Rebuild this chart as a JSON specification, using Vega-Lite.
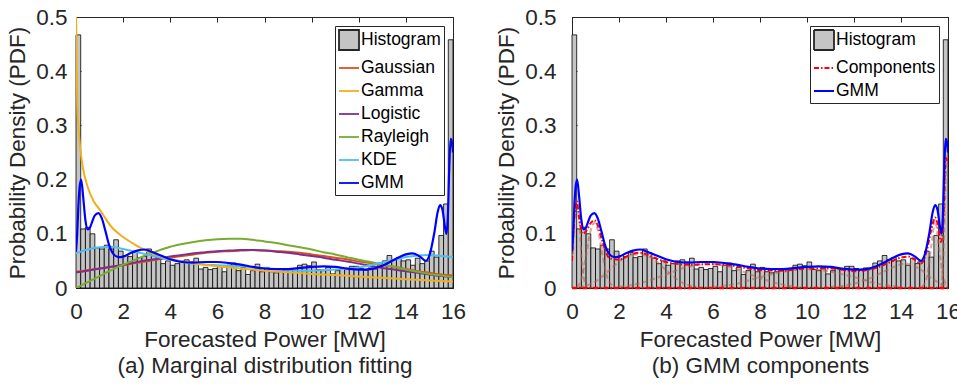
{
  "$schema": "https://vega.github.io/schema/vega-lite/v6.json",
  "background": "white",
  "padding": {"left": 6, "top": 5, "right": 0, "bottom": 0},
  "spacing": 28,
  "resolve": {"scale": {"x": "independent", "y": "independent", "color": "independent", "fill": "independent", "stroke": "independent", "shape": "independent", "strokeDash": "independent"}, "legend": {"fill": "independent", "stroke": "independent", "shape": "independent", "strokeDash": "independent"}},
  "config": {
    "font": "Liberation Sans",
    "view": {"stroke": "#262626", "strokeWidth": 1},
    "axis": {
      "labelFont": "Liberation Sans", "labelFontSize": 22.5, "labelColor": "#262626", "labelFlush": false, "labelOverlap": false,
      "titleFont": "Liberation Sans", "titleFontSize": 22.5, "titleFontWeight": "normal", "titleColor": "#262626",
      "grid": false, "domain": false, "tickColor": "#262626", "tickSize": -5, "tickWidth": 1
    },
    "legend": {
      "title": null, "orient": "top-right", "offset": 9,
      "labelFont": "Liberation Sans", "labelFontSize": 17.5, "labelColor": "black",
      "symbolSize": 400, "symbolStrokeWidth": 1.8,
      "strokeColor": "#262626", "fillColor": "white", "padding": 3, "rowPadding": 3, "labelOffset": 1
    }
  },
  "datasets": {
    "hist": [
      {"x0":0.0,"x1":0.2,"d":0.467},{"x0":0.2,"x1":0.4,"d":0.109},{"x0":0.4,"x1":0.6,"d":0.112},{"x0":0.6,"x1":0.8,"d":0.100},
      {"x0":0.8,"x1":1.0,"d":0.074},{"x0":1.0,"x1":1.2,"d":0.072},{"x0":1.2,"x1":1.4,"d":0.079},{"x0":1.4,"x1":1.6,"d":0.072},
      {"x0":1.6,"x1":1.8,"d":0.089},{"x0":1.8,"x1":2.0,"d":0.068},{"x0":2.0,"x1":2.2,"d":0.060},{"x0":2.2,"x1":2.4,"d":0.058},
      {"x0":2.4,"x1":2.6,"d":0.066},{"x0":2.6,"x1":2.8,"d":0.056},{"x0":2.8,"x1":3.0,"d":0.058},{"x0":3.0,"x1":3.2,"d":0.072},
      {"x0":3.2,"x1":3.4,"d":0.065},{"x0":3.4,"x1":3.6,"d":0.055},{"x0":3.6,"x1":3.8,"d":0.045},{"x0":3.8,"x1":4.0,"d":0.050},
      {"x0":4.0,"x1":4.2,"d":0.042},{"x0":4.2,"x1":4.4,"d":0.045},{"x0":4.4,"x1":4.6,"d":0.050},{"x0":4.6,"x1":4.8,"d":0.052},
      {"x0":4.8,"x1":5.0,"d":0.048},{"x0":5.0,"x1":5.2,"d":0.055},{"x0":5.2,"x1":5.4,"d":0.035},{"x0":5.4,"x1":5.6,"d":0.038},
      {"x0":5.6,"x1":5.8,"d":0.034},{"x0":5.8,"x1":6.0,"d":0.036},{"x0":6.0,"x1":6.2,"d":0.040},{"x0":6.2,"x1":6.4,"d":0.030},
      {"x0":6.4,"x1":6.6,"d":0.042},{"x0":6.6,"x1":6.8,"d":0.046},{"x0":6.8,"x1":7.0,"d":0.032},{"x0":7.0,"x1":7.2,"d":0.038},
      {"x0":7.2,"x1":7.4,"d":0.025},{"x0":7.4,"x1":7.6,"d":0.032},{"x0":7.6,"x1":7.8,"d":0.044},{"x0":7.8,"x1":8.0,"d":0.030},
      {"x0":8.0,"x1":8.2,"d":0.038},{"x0":8.2,"x1":8.4,"d":0.030},{"x0":8.4,"x1":8.6,"d":0.028},{"x0":8.6,"x1":8.8,"d":0.030},
      {"x0":8.8,"x1":9.0,"d":0.036},{"x0":9.0,"x1":9.2,"d":0.034},{"x0":9.2,"x1":9.4,"d":0.036},{"x0":9.4,"x1":9.6,"d":0.042},
      {"x0":9.6,"x1":9.8,"d":0.044},{"x0":9.8,"x1":10.0,"d":0.041},{"x0":10.0,"x1":10.2,"d":0.048},{"x0":10.2,"x1":10.4,"d":0.034},
      {"x0":10.4,"x1":10.6,"d":0.032},{"x0":10.6,"x1":10.8,"d":0.038},{"x0":10.8,"x1":11.0,"d":0.026},{"x0":11.0,"x1":11.2,"d":0.032},
      {"x0":11.2,"x1":11.4,"d":0.036},{"x0":11.4,"x1":11.6,"d":0.034},{"x0":11.6,"x1":11.8,"d":0.040},{"x0":11.8,"x1":12.0,"d":0.040},
      {"x0":12.0,"x1":12.2,"d":0.036},{"x0":12.2,"x1":12.4,"d":0.033},{"x0":12.4,"x1":12.6,"d":0.037},{"x0":12.6,"x1":12.8,"d":0.035},
      {"x0":12.8,"x1":13.0,"d":0.046},{"x0":13.0,"x1":13.2,"d":0.050},{"x0":13.2,"x1":13.4,"d":0.060},{"x0":13.4,"x1":13.6,"d":0.052},
      {"x0":13.6,"x1":13.8,"d":0.056},{"x0":13.8,"x1":14.0,"d":0.050},{"x0":14.0,"x1":14.2,"d":0.052},{"x0":14.2,"x1":14.4,"d":0.042},
      {"x0":14.4,"x1":14.6,"d":0.055},{"x0":14.6,"x1":14.8,"d":0.045},{"x0":14.8,"x1":15.0,"d":0.050},{"x0":15.0,"x1":15.2,"d":0.068},
      {"x0":15.2,"x1":15.4,"d":0.057},{"x0":15.4,"x1":15.6,"d":0.097},{"x0":15.6,"x1":15.8,"d":0.155},{"x0":15.8,"x1":16.0,"d":0.458}
    ],
    "fits": [
      {"x":0,"Gaussian":0.030,"Logistic":0.029,"Rayleigh":0.000,"KDE":0.064},
      {"x":0.5,"Gaussian":0.033,"Logistic":0.032,"Rayleigh":0.011,"KDE":0.071},
      {"x":1,"Gaussian":0.036,"Logistic":0.036,"Rayleigh":0.022,"KDE":0.075},
      {"x":1.5,"Gaussian":0.039,"Logistic":0.039,"Rayleigh":0.033,"KDE":0.076},
      {"x":2,"Gaussian":0.042,"Logistic":0.043,"Rayleigh":0.043,"KDE":0.072},
      {"x":2.5,"Gaussian":0.046,"Logistic":0.047,"Rayleigh":0.052,"KDE":0.067},
      {"x":3,"Gaussian":0.049,"Logistic":0.051,"Rayleigh":0.061,"KDE":0.062},
      {"x":3.5,"Gaussian":0.053,"Logistic":0.054,"Rayleigh":0.069,"KDE":0.057},
      {"x":4,"Gaussian":0.056,"Logistic":0.058,"Rayleigh":0.076,"KDE":0.052},
      {"x":4.5,"Gaussian":0.059,"Logistic":0.061,"Rayleigh":0.081,"KDE":0.048},
      {"x":5,"Gaussian":0.062,"Logistic":0.064,"Rayleigh":0.085,"KDE":0.045},
      {"x":5.5,"Gaussian":0.065,"Logistic":0.066,"Rayleigh":0.088,"KDE":0.043},
      {"x":6,"Gaussian":0.067,"Logistic":0.068,"Rayleigh":0.090,"KDE":0.042},
      {"x":6.5,"Gaussian":0.068,"Logistic":0.069,"Rayleigh":0.091,"KDE":0.041},
      {"x":7,"Gaussian":0.069,"Logistic":0.070,"Rayleigh":0.091,"KDE":0.040},
      {"x":7.5,"Gaussian":0.070,"Logistic":0.070,"Rayleigh":0.089,"KDE":0.038},
      {"x":8,"Gaussian":0.069,"Logistic":0.069,"Rayleigh":0.086,"KDE":0.037},
      {"x":8.5,"Gaussian":0.068,"Logistic":0.067,"Rayleigh":0.083,"KDE":0.035},
      {"x":9,"Gaussian":0.067,"Logistic":0.065,"Rayleigh":0.079,"KDE":0.033},
      {"x":9.5,"Gaussian":0.065,"Logistic":0.062,"Rayleigh":0.075,"KDE":0.032},
      {"x":10,"Gaussian":0.062,"Logistic":0.059,"Rayleigh":0.071,"KDE":0.032},
      {"x":10.5,"Gaussian":0.059,"Logistic":0.056,"Rayleigh":0.066,"KDE":0.033},
      {"x":11,"Gaussian":0.056,"Logistic":0.052,"Rayleigh":0.062,"KDE":0.034},
      {"x":11.5,"Gaussian":0.053,"Logistic":0.049,"Rayleigh":0.057,"KDE":0.036},
      {"x":12,"Gaussian":0.049,"Logistic":0.045,"Rayleigh":0.052,"KDE":0.038},
      {"x":12.5,"Gaussian":0.046,"Logistic":0.041,"Rayleigh":0.048,"KDE":0.042},
      {"x":13,"Gaussian":0.042,"Logistic":0.037,"Rayleigh":0.043,"KDE":0.047},
      {"x":13.5,"Gaussian":0.039,"Logistic":0.034,"Rayleigh":0.039,"KDE":0.052},
      {"x":14,"Gaussian":0.035,"Logistic":0.031,"Rayleigh":0.034,"KDE":0.057},
      {"x":14.5,"Gaussian":0.031,"Logistic":0.028,"Rayleigh":0.030,"KDE":0.060},
      {"x":15,"Gaussian":0.028,"Logistic":0.025,"Rayleigh":0.026,"KDE":0.061},
      {"x":15.5,"Gaussian":0.025,"Logistic":0.022,"Rayleigh":0.023,"KDE":0.059},
      {"x":16,"Gaussian":0.023,"Logistic":0.020,"Rayleigh":0.020,"KDE":0.057}
    ],
    "gamma": [
      {"x":0.005,"p":0.50},{"x":0.05,"p":0.35},{"x":0.1,"p":0.30},{"x":0.2,"p":0.25},{"x":0.3,"p":0.22},
      {"x":0.5,"p":0.186},{"x":0.75,"p":0.16},{"x":1.0,"p":0.145},{"x":1.5,"p":0.113},{"x":2,"p":0.094},
      {"x":2.5,"p":0.08},{"x":3,"p":0.068},{"x":4,"p":0.054},{"x":5,"p":0.045},{"x":6,"p":0.04},
      {"x":7,"p":0.036},{"x":8,"p":0.032},{"x":9,"p":0.029},{"x":10,"p":0.026},{"x":11,"p":0.024},
      {"x":12,"p":0.021},{"x":13,"p":0.019},{"x":14,"p":0.016},{"x":15,"p":0.014},{"x":16,"p":0.012}
    ],
    "gmm": [
      {"x":0,"p":0.067},{"x":0.05,"p":0.10},{"x":0.1,"p":0.15},{"x":0.15,"p":0.185},{"x":0.22,"p":0.2},
      {"x":0.3,"p":0.17},{"x":0.4,"p":0.125},{"x":0.5,"p":0.108},{"x":0.6,"p":0.112},{"x":0.7,"p":0.124},
      {"x":0.8,"p":0.134},{"x":0.95,"p":0.138},{"x":1.1,"p":0.128},{"x":1.25,"p":0.105},{"x":1.4,"p":0.08},
      {"x":1.6,"p":0.062},{"x":1.8,"p":0.057},{"x":2.0,"p":0.058},{"x":2.3,"p":0.064},{"x":2.6,"p":0.069},
      {"x":2.9,"p":0.071},{"x":3.2,"p":0.067},{"x":3.6,"p":0.060},{"x":4.0,"p":0.053},{"x":4.5,"p":0.048},
      {"x":5.0,"p":0.047},{"x":5.5,"p":0.048},{"x":6.0,"p":0.048},{"x":6.5,"p":0.046},{"x":7.0,"p":0.043},
      {"x":7.5,"p":0.039},{"x":8.0,"p":0.036},{"x":8.5,"p":0.035},{"x":9.0,"p":0.035},{"x":9.5,"p":0.037},
      {"x":10.0,"p":0.039},{"x":10.5,"p":0.040},{"x":11.0,"p":0.039},{"x":11.5,"p":0.036},{"x":12.0,"p":0.034},
      {"x":12.5,"p":0.035},{"x":13.0,"p":0.041},{"x":13.5,"p":0.052},{"x":14.0,"p":0.062},{"x":14.3,"p":0.064},
      {"x":14.6,"p":0.058},{"x":14.85,"p":0.05},{"x":15.0,"p":0.06},{"x":15.2,"p":0.10},{"x":15.35,"p":0.14},
      {"x":15.45,"p":0.153},{"x":15.55,"p":0.145},{"x":15.65,"p":0.115},{"x":15.72,"p":0.1},{"x":15.78,"p":0.13},
      {"x":15.84,"p":0.22},{"x":15.9,"p":0.275},{"x":15.95,"p":0.27},{"x":16.0,"p":0.25}
    ],
    "compsum": [
      {"x":0,"p":0.05},{"x":0.1,"p":0.13},{"x":0.2,"p":0.16},{"x":0.3,"p":0.13},{"x":0.45,"p":0.1},
      {"x":0.6,"p":0.105},{"x":0.8,"p":0.12},{"x":0.95,"p":0.125},{"x":1.1,"p":0.115},{"x":1.3,"p":0.085},
      {"x":1.6,"p":0.055},{"x":2.0,"p":0.052},{"x":2.5,"p":0.062},{"x":2.9,"p":0.065},{"x":3.4,"p":0.058},
      {"x":4.0,"p":0.048},{"x":5.0,"p":0.043},{"x":6.0,"p":0.044},{"x":7.0,"p":0.04},{"x":8.0,"p":0.033},
      {"x":9.0,"p":0.032},{"x":10.0,"p":0.036},{"x":11.0,"p":0.036},{"x":12.0,"p":0.031},{"x":13.0,"p":0.038},
      {"x":13.5,"p":0.047},{"x":14.0,"p":0.056},{"x":14.3,"p":0.058},{"x":14.6,"p":0.052},{"x":14.85,"p":0.045},
      {"x":15.1,"p":0.07},{"x":15.3,"p":0.11},{"x":15.45,"p":0.13},{"x":15.55,"p":0.12},{"x":15.7,"p":0.085},
      {"x":15.8,"p":0.12},{"x":15.9,"p":0.24},{"x":16.0,"p":0.23}
    ],
    "comps": [
      {"c":1,"x":0,"p":0.05},{"c":1,"x":0.1,"p":0.13},{"c":1,"x":0.2,"p":0.16},{"c":1,"x":0.3,"p":0.13},{"c":1,"x":0.4,"p":0.06},{"c":1,"x":0.5,"p":0.02},{"c":1,"x":0.6,"p":0.003},
      {"c":2,"x":0.2,"p":0.002},{"c":2,"x":0.4,"p":0.016},{"c":2,"x":0.6,"p":0.06},{"c":2,"x":0.8,"p":0.107},{"c":2,"x":0.95,"p":0.12},{"c":2,"x":1.1,"p":0.107},{"c":2,"x":1.3,"p":0.06},{"c":2,"x":1.5,"p":0.02},{"c":2,"x":1.8,"p":0.002},
      {"c":3,"x":0.3,"p":0.001},{"c":3,"x":1.0,"p":0.012},{"c":3,"x":1.6,"p":0.033},{"c":3,"x":2.2,"p":0.055},{"c":3,"x":2.8,"p":0.062},{"c":3,"x":3.4,"p":0.055},{"c":3,"x":4.0,"p":0.033},{"c":3,"x":4.6,"p":0.012},{"c":3,"x":5.3,"p":0.002},
      {"c":4,"x":2.0,"p":0.002},{"c":4,"x":3.0,"p":0.01},{"c":4,"x":4.0,"p":0.025},{"c":4,"x":5.0,"p":0.04},{"c":4,"x":5.8,"p":0.045},{"c":4,"x":6.6,"p":0.04},{"c":4,"x":7.6,"p":0.025},{"c":4,"x":8.6,"p":0.01},{"c":4,"x":9.6,"p":0.002},
      {"c":5,"x":6.0,"p":0.002},{"c":5,"x":7.0,"p":0.008},{"c":5,"x":8.0,"p":0.02},{"c":5,"x":9.0,"p":0.03},{"c":5,"x":10.0,"p":0.035},{"c":5,"x":11.0,"p":0.03},{"c":5,"x":12.0,"p":0.02},{"c":5,"x":13.0,"p":0.008},{"c":5,"x":14.0,"p":0.002},
      {"c":6,"x":11.0,"p":0.002},{"c":6,"x":12.0,"p":0.008},{"c":6,"x":12.8,"p":0.02},{"c":6,"x":13.5,"p":0.035},{"c":6,"x":14.2,"p":0.045},{"c":6,"x":14.8,"p":0.035},{"c":6,"x":15.4,"p":0.015},{"c":6,"x":16.0,"p":0.003},
      {"c":7,"x":14.9,"p":0.002},{"c":7,"x":15.1,"p":0.02},{"c":7,"x":15.3,"p":0.08},{"c":7,"x":15.45,"p":0.125},{"c":7,"x":15.6,"p":0.08},{"c":7,"x":15.8,"p":0.02},{"c":7,"x":16.0,"p":0.002},
      {"c":8,"x":15.7,"p":0.0},{"c":8,"x":15.8,"p":0.05},{"c":8,"x":15.9,"p":0.2},{"c":8,"x":16.0,"p":0.25}
    ],
    "zero": [{"x":0,"p":0},{"x":16,"p":0}],
    "legA": [{"series":"Histogram","v":null},{"series":"Gaussian","v":null},{"series":"Gamma","v":null},{"series":"Logistic","v":null},{"series":"Rayleigh","v":null},{"series":"KDE","v":null},{"series":"GMM","v":null}],
    "legB": [{"series":"Histogram","v":null},{"series":"Components","v":null},{"series":"GMM","v":null}]
  },
  "hconcat": [
    {
      "width": 377, "height": 271,
      "resolve": {"axis": {"x": "independent", "y": "independent"}},
      "layer": [
        {
          "data": {"name": "hist"},
          "mark": {"type": "rect", "fill": "#c4c4c4", "stroke": "black", "strokeWidth": 0.8},
          "encoding": {
            "x": {"field": "x0", "type": "quantitative", "scale": {"domain": [0, 16], "nice": false, "zero": false},
                  "axis": {"orient": "bottom", "values": [0,2,4,6,8,10,12,14,16], "labelPadding": 17,
                           "title": ["Forecasted Power [MW]", "(a) Marginal distribution fitting"], "titlePadding": 6, "titleLineHeight": 26}},
            "x2": {"field": "x1"},
            "y": {"field": "d", "type": "quantitative", "scale": {"domain": [0, 0.5], "nice": false},
                  "axis": {"orient": "left", "values": [0,0.1,0.2,0.3,0.4,0.5], "labelPadding": 14,
                           "labelExpr": "datum.value == 0 ? '0' : format(datum.value, '.1f')",
                           "title": "Probability Density (PDF)", "titlePadding": 6}},
            "y2": {"datum": 0}
          }
        },
        {
          "data": {"name": "fits"},
          "transform": [{"fold": ["Gaussian", "Logistic", "Rayleigh", "KDE"], "as": ["series", "p"]}],
          "mark": {"type": "line", "strokeWidth": 2, "interpolate": "monotone", "clip": true},
          "encoding": {
            "x": {"field": "x", "type": "quantitative", "axis": null, "scale": {"domain": [0, 16], "nice": false, "zero": false}},
            "y": {"field": "p", "type": "quantitative", "axis": null, "scale": {"domain": [0, 0.5], "nice": false}},
            "color": {"field": "series", "type": "nominal", "legend": null,
                      "scale": {"domain": ["Gaussian","Logistic","Rayleigh","KDE"], "range": ["#D95319","#7E2F8E","#77AC30","#4DBEEE"]}}
          }
        },
        {
          "data": {"name": "gamma"},
          "mark": {"type": "line", "stroke": "#EDB120", "strokeWidth": 2, "interpolate": "monotone", "clip": true},
          "encoding": {
            "x": {"field": "x", "type": "quantitative", "axis": null, "scale": {"domain": [0, 16], "nice": false, "zero": false}},
            "y": {"field": "p", "type": "quantitative", "axis": null, "scale": {"domain": [0, 0.5], "nice": false}}
          }
        },
        {
          "data": {"name": "gmm"},
          "mark": {"type": "line", "stroke": "#0000FF", "strokeWidth": 2.2, "interpolate": "monotone", "clip": true},
          "encoding": {
            "x": {"field": "x", "type": "quantitative", "scale": {"domain": [0, 16], "nice": false, "zero": false},
                  "axis": {"orient": "top", "values": [0,2,4,6,8,10,12,14,16], "labels": false, "title": null}},
            "y": {"field": "p", "type": "quantitative", "scale": {"domain": [0, 0.5], "nice": false},
                  "axis": {"orient": "right", "values": [0,0.1,0.2,0.3,0.4,0.5], "labels": false, "title": null}}
          }
        },
        {
          "data": {"name": "legA"},
          "mark": {"type": "point", "filled": true, "strokeWidth": 1.8, "opacity": 1},
          "encoding": {
            "x": {"field": "v", "type": "quantitative", "axis": null, "scale": {"domain": [0, 16], "nice": false, "zero": false}},
            "y": {"field": "v", "type": "quantitative", "axis": null, "scale": {"domain": [0, 0.5], "nice": false}},
            "fill": {"field": "series", "type": "nominal",
                     "scale": {"domain": ["Histogram","Gaussian","Gamma","Logistic","Rayleigh","KDE","GMM"],
                               "range": ["#c4c4c4","transparent","transparent","transparent","transparent","transparent","transparent"]}},
            "stroke": {"field": "series", "type": "nominal",
                     "scale": {"domain": ["Histogram","Gaussian","Gamma","Logistic","Rayleigh","KDE","GMM"],
                               "range": ["#262626","#D95319","#EDB120","#7E2F8E","#77AC30","#4DBEEE","#0000FF"]}},
            "shape": {"field": "series", "type": "nominal",
                     "scale": {"domain": ["Histogram","Gaussian","Gamma","Logistic","Rayleigh","KDE","GMM"],
                               "range": ["square","stroke","stroke","stroke","stroke","stroke","stroke"]}}
          }
        }
      ]
    },
    {
      "width": 376, "height": 271,
      "resolve": {"axis": {"x": "independent", "y": "independent"}},
      "layer": [
        {
          "data": {"name": "hist"},
          "mark": {"type": "rect", "fill": "#c4c4c4", "stroke": "black", "strokeWidth": 0.8},
          "encoding": {
            "x": {"field": "x0", "type": "quantitative", "scale": {"domain": [0, 16], "nice": false, "zero": false},
                  "axis": {"orient": "bottom", "values": [0,2,4,6,8,10,12,14,16], "labelPadding": 17,
                           "title": ["Forecasted Power [MW]", "(b) GMM components"], "titlePadding": 6, "titleLineHeight": 26}},
            "x2": {"field": "x1"},
            "y": {"field": "d", "type": "quantitative", "scale": {"domain": [0, 0.5], "nice": false},
                  "axis": {"orient": "left", "values": [0,0.1,0.2,0.3,0.4,0.5], "labelPadding": 21,
                           "labelExpr": "datum.value == 0 ? '0' : format(datum.value, '.1f')",
                           "title": "Probability Density (PDF)", "titlePadding": 6}},
            "y2": {"datum": 0}
          }
        },
        {
          "data": {"name": "comps"},
          "mark": {"type": "line", "stroke": "#b8604a", "strokeWidth": 2, "strokeDash": [5, 3], "opacity": 0.55, "interpolate": "monotone", "clip": true},
          "encoding": {
            "x": {"field": "x", "type": "quantitative", "axis": null, "scale": {"domain": [0, 16], "nice": false, "zero": false}},
            "y": {"field": "p", "type": "quantitative", "axis": null, "scale": {"domain": [0, 0.5], "nice": false}},
            "detail": {"field": "c", "type": "nominal"}
          }
        },
        {
          "data": {"name": "zero"},
          "mark": {"type": "line", "stroke": "#FF0000", "strokeWidth": 2.5, "strokeDash": [5, 2, 1.5, 2]},
          "encoding": {
            "x": {"field": "x", "type": "quantitative", "axis": null, "scale": {"domain": [0, 16], "nice": false, "zero": false}},
            "y": {"field": "p", "type": "quantitative", "axis": null, "scale": {"domain": [0, 0.5], "nice": false}}
          }
        },
        {
          "data": {"name": "compsum"},
          "mark": {"type": "line", "stroke": "#FF0000", "strokeWidth": 2, "strokeDash": [5, 2, 1.5, 2], "interpolate": "monotone", "clip": true},
          "encoding": {
            "x": {"field": "x", "type": "quantitative", "axis": null, "scale": {"domain": [0, 16], "nice": false, "zero": false}},
            "y": {"field": "p", "type": "quantitative", "axis": null, "scale": {"domain": [0, 0.5], "nice": false}}
          }
        },
        {
          "data": {"name": "gmm"},
          "mark": {"type": "line", "stroke": "#0000FF", "strokeWidth": 2.2, "interpolate": "monotone", "clip": true},
          "encoding": {
            "x": {"field": "x", "type": "quantitative", "scale": {"domain": [0, 16], "nice": false, "zero": false},
                  "axis": {"orient": "top", "values": [0,2,4,6,8,10,12,14,16], "labels": false, "title": null}},
            "y": {"field": "p", "type": "quantitative", "scale": {"domain": [0, 0.5], "nice": false},
                  "axis": {"orient": "right", "values": [0,0.1,0.2,0.3,0.4,0.5], "labels": false, "title": null}}
          }
        },
        {
          "data": {"name": "legB"},
          "mark": {"type": "point", "filled": true, "strokeWidth": 1.8, "opacity": 1},
          "encoding": {
            "x": {"field": "v", "type": "quantitative", "axis": null, "scale": {"domain": [0, 16], "nice": false, "zero": false}},
            "y": {"field": "v", "type": "quantitative", "axis": null, "scale": {"domain": [0, 0.5], "nice": false}},
            "fill": {"field": "series", "type": "nominal",
                     "scale": {"domain": ["Histogram","Components","GMM"], "range": ["#c4c4c4","transparent","transparent"]}},
            "stroke": {"field": "series", "type": "nominal",
                     "scale": {"domain": ["Histogram","Components","GMM"], "range": ["#262626","#FF0000","#0000FF"]}},
            "shape": {"field": "series", "type": "nominal",
                     "scale": {"domain": ["Histogram","Components","GMM"], "range": ["square","stroke","stroke"]}},
            "strokeDash": {"field": "series", "type": "nominal",
                     "scale": {"domain": ["Histogram","Components","GMM"], "range": [[1,0],[5,2,1.5,2],[1,0]]}}
          }
        }
      ]
    }
  ]
}
